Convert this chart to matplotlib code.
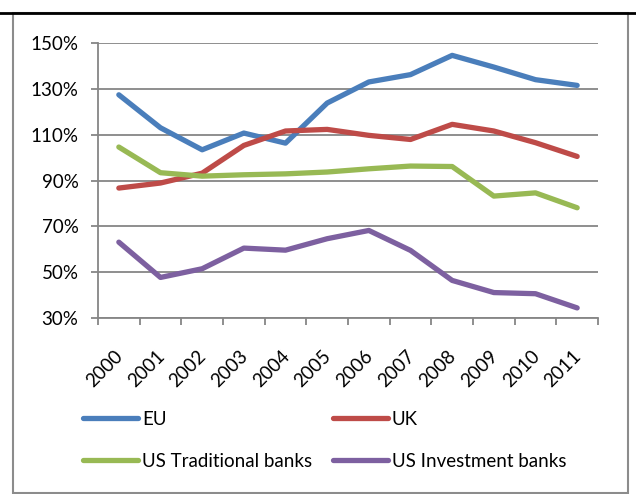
import numpy as np
import matplotlib
matplotlib.use("Agg")
from matplotlib import pyplot as plt
from matplotlib.patches import Rectangle
from matplotlib.lines import Line2D

plt.rcParams['font.family'] = ['Lato', 'DejaVu Sans']

years = ['2000', '2001', '2002', '2003', '2004', '2005',
         '2006', '2007', '2008', '2009', '2010', '2011']
eu = [127.4, 113.0, 103.4, 110.7, 106.3, 123.8, 133.0, 136.2, 144.6, 139.5, 134.0, 131.5]
uk = [86.7, 88.9, 93.2, 105.3, 111.6, 112.3, 109.7, 107.9, 114.5, 111.6, 106.5, 100.5]
us_trad = [104.6, 93.4, 91.9, 92.5, 92.9, 93.7, 95.1, 96.3, 96.1, 83.2, 84.6, 78.1]
us_inv = [63.1, 47.7, 51.5, 60.5, 59.6, 64.6, 68.2, 59.5, 46.4, 41.1, 40.6, 34.4]

series = [
    ('EU', eu, '#4A7EBB'),
    ('UK', uk, '#BE4B48'),
    ('US Traditional banks', us_trad, '#98B954'),
    ('US Investment banks', us_inv, '#7D60A0'),
]

FS = 13.5

fig = plt.figure(figsize=(6.36, 4.94), dpi=100)
ax = fig.add_axes([98 / 636, 1 - 318 / 494, 500 / 636, 275 / 494])

x = np.arange(len(years))
for name, vals, col in series:
    ax.plot(x, vals, color=col, lw=3.8, solid_capstyle='round', solid_joinstyle='round', zorder=3)

grid_col = '#868686'
ax.set_ylim(30, 150)
ax.set_yticks(np.arange(30, 151, 20))
ax.set_yticklabels(['%d%%' % v for v in range(30, 151, 20)], fontsize=FS)
ax.yaxis.grid(True, color=grid_col, lw=1.3)
ax.set_axisbelow(True)

ax.set_xlim(-0.5, len(years) - 0.5)
ax.set_xticks(np.arange(len(years) + 1) - 0.5, minor=True)
ax.set_xticks(x + 0.17)
ax.set_xticklabels(years, rotation=45, ha='right', fontsize=FS)
ax.tick_params(axis='x', which='major', length=0, pad=21)
ax.tick_params(axis='x', which='minor', length=5, color=grid_col, width=1.3)
ax.tick_params(axis='y', length=5, color=grid_col, width=1.3, pad=9)

for side in ['top', 'right']:
    ax.spines[side].set_visible(False)
for side in ['left', 'bottom']:
    ax.spines[side].set_color(grid_col)
    ax.spines[side].set_linewidth(1.3)

# legend: rows EU/UK and traditional/investment
handles = [Line2D([], [], color=c, lw=3.8, solid_capstyle='round') for _, _, c in series]
labels = [n for n, _, _ in series]
order = [0, 2, 1, 3]
fig.legend([handles[i] for i in order], [labels[i] for i in order],
           loc='upper left', bbox_to_anchor=(66 / 636, 1 - 394 / 494), ncol=2,
           frameon=False, fontsize=FS, handlelength=2.95, handletextpad=0.2,
           columnspacing=1.1, labelspacing=1.32)

# chart border and page rule
fig.add_artist(Rectangle((13 / 636, 1 - 493 / 494), 615 / 636, 480 / 494,
                         transform=fig.transFigure, fill=False, ec='#8c8c8c', lw=1.5))
fig.add_artist(Line2D([0, 1], [1 - 13 / 494, 1 - 13 / 494], transform=fig.transFigure,
                      color='black', lw=2))

fig.savefig('out.png', dpi=100)
